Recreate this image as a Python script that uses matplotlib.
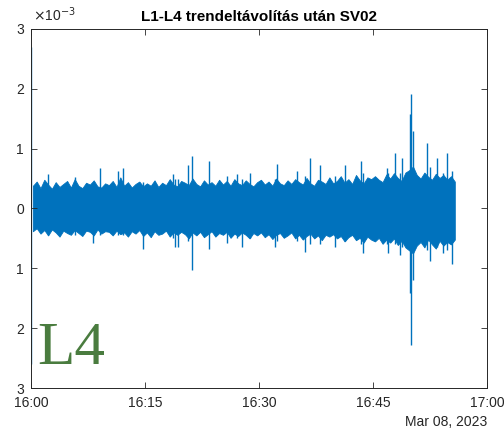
import matplotlib
matplotlib.use("Agg")
import matplotlib.pyplot as plt
import matplotlib.dates as mdates
import numpy as np
from datetime import datetime, timedelta

plt.rcParams['font.family'] = ['Liberation Sans', 'DejaVu Sans']

t0 = datetime(2023, 3, 8, 16, 0)

# ragged band: extremes in each half minute after 16:00 (1e-3 units)
minor_top = [0.38, 0.45, 0.34, 0.48, 0.40, 0.33, 0.44, 0.36, 0.41, 0.46,
             0.35, 0.49, 0.38, 0.34, 0.43, 0.40, 0.47, 0.37, 0.35, 0.42,
             0.39, 0.46, 0.36, 0.52, 0.38, 0.44, 0.35, 0.41, 0.45, 0.37,
             0.42, 0.38, 0.47, 0.36, 0.43, 0.39, 0.49, 0.40, 0.37, 0.46,
             0.43, 0.39, 0.50, 0.41, 0.37, 0.47, 0.40, 0.44, 0.38, 0.48,
             0.40, 0.46, 0.38, 0.49, 0.42, 0.39, 0.47, 0.41, 0.37, 0.44,
             0.48, 0.40, 0.45, 0.38, 0.50, 0.42, 0.39, 0.47, 0.41, 0.49,
             0.44, 0.40, 0.51, 0.42, 0.38, 0.48, 0.45, 0.41, 0.52, 0.42,
             0.46, 0.54, 0.43, 0.49, 0.41, 0.56, 0.47, 0.42, 0.52, 0.49,
             0.54, 0.48, 0.44, 0.57, 0.50, 0.59, 0.51, 0.46, 0.60, 0.64,
             0.70, 0.56, 0.50, 0.60, 0.53, 0.48, 0.58, 0.51, 0.56, 0.48,
             0.54, 0.45]
minor_bot = [-0.38, -0.33, -0.42, -0.36, -0.45, -0.35, -0.40, -0.47, -0.37, -0.41,
             -0.44, -0.36, -0.41, -0.46, -0.37, -0.39, -0.45, -0.35, -0.42, -0.38,
             -0.39, -0.45, -0.37, -0.43, -0.40, -0.47, -0.38, -0.42, -0.36, -0.46,
             -0.40, -0.48, -0.38, -0.44, -0.42, -0.37, -0.47, -0.40, -0.44, -0.39,
             -0.43, -0.50, -0.40, -0.45, -0.39, -0.48, -0.43, -0.38, -0.47, -0.41,
             -0.44, -0.39, -0.49, -0.42, -0.46, -0.40, -0.44, -0.50, -0.41, -0.45,
             -0.40, -0.48, -0.43, -0.51, -0.44, -0.41, -0.49, -0.45, -0.40, -0.50,
             -0.44, -0.52, -0.46, -0.42, -0.50, -0.45, -0.53, -0.44, -0.47, -0.43,
             -0.50, -0.46, -0.55, -0.48, -0.44, -0.53, -0.49, -0.57, -0.47, -0.52,
             -0.55, -0.49, -0.59, -0.52, -0.57, -0.50, -0.61, -0.54, -0.65, -0.70,
             -0.75, -0.62, -0.56, -0.65, -0.52, -0.60, -0.67, -0.54, -0.62, -0.56,
             -0.60, -0.52]

# individual larger spikes: time (min), top, bottom (1e-3 units)
spike_t = [0.05, 2.2, 5.8, 8.2, 9.1, 11.4, 12.1, 14.7, 18.7, 18.9,
           19.3, 20.7, 21.2, 23.4, 25.8, 27.1, 27.8, 28.8, 32.1, 32.4, 35.0, 36.0,
           36.7, 38.0, 40.0, 41.3, 43.4, 43.7, 46.8, 47.0, 47.9, 48.6, 48.8, 49.8,
           50.0, 50.2, 52.1, 52.5, 53.4, 54.2, 54.7, 55.4]
spike_top = [2.70, 0.58, 0.52, 0.40, 0.67, 0.62, 0.67, 0.45, 0.58,
             0.50, 0.50, 0.72, 0.88, 0.80, 0.55, 0.58, 0.50, 0.60, 0.50, 0.75, 0.63,
             0.55, 0.85, 0.72, 0.55, 0.72, 0.80, 0.60, 0.67, 0.60, 0.92, 0.60, 0.85,
             1.58, 1.92, 1.30, 1.10, 0.70, 0.85, 0.60, 0.93, 0.63]
spike_bot = [-2.60, -0.45, -0.45, -0.57, -0.45, -0.45, -0.45,
             -0.67, -0.50, -0.65, -0.65, -0.55, -1.03, -0.67, -0.58, -0.50, -0.65,
             -0.50, -0.65, -0.55, -0.55, -0.73, -0.60, -0.60, -0.65, -0.55, -0.60,
             -0.75, -0.60, -0.75, -0.60, -0.78, -0.65, -1.42, -2.28, -1.20, -0.70,
             -0.87, -0.65, -0.75, -0.70, -0.92]

blue = '#0072BD'
dark = '#262626'

fig = plt.figure(figsize=(5.04, 4.38), dpi=100)
ax = fig.add_axes([0.0615, 0.114, 0.905, 0.820])

mt = [t0 + timedelta(minutes=m) for m in np.arange(0.25, 56, 0.5)]
ax.fill_between(mt, np.array(minor_bot) * 1e-3, np.array(minor_top) * 1e-3,
                color=blue, linewidth=0.6, edgecolor=blue)
st = [t0 + timedelta(minutes=m) for m in spike_t]
ax.vlines(st, np.array(spike_bot) * 1e-3, np.array(spike_top) * 1e-3,
          color=blue, linewidth=1.0)

ax.set_xlim(t0, t0 + timedelta(hours=1))
ax.set_ylim(-3e-3, 3e-3)
ax.xaxis.set_major_locator(mdates.MinuteLocator(byminute=[0, 15, 30, 45]))
ax.xaxis.set_major_formatter(mdates.DateFormatter('%H:%M'))
ax.set_yticks(np.arange(-3, 4) * 1e-3)
ax.yaxis.set_major_formatter(plt.FuncFormatter(lambda v, p: '%d' % round(abs(v) * 1000)))
ax.tick_params(direction='in', length=4, width=0.6, colors=dark, labelsize=10,
               top=True, right=True)
ax.tick_params(axis='x', pad=6)
ax.tick_params(axis='y', pad=5)
for s in ax.spines.values():
    s.set_color(dark)
    s.set_linewidth(0.7)

ax.set_title('L1-L4 trendeltávolítás után SV02', fontsize=11, fontweight='bold',
             color='black', pad=6)
fig.text(0.066, 0.952, r'$\times$10$^{-3}$', fontsize=10, color=dark, ha='left', va='baseline')
fig.text(0.966, 0.027, 'Mar 08, 2023', fontsize=10, color=dark, ha='right', va='baseline')
fig.text(0.074, 0.168, 'L4', family=['Liberation Serif'], fontsize=44,
         color='#4a7c3f', ha='left', va='baseline')

fig.savefig('out.png', dpi=100)
